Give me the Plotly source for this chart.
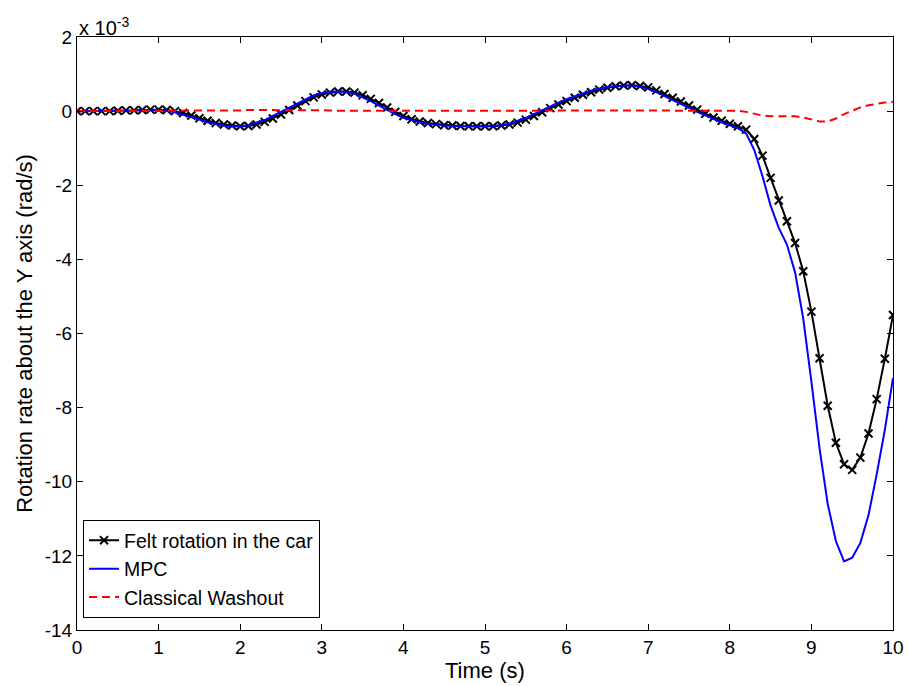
import numpy as np
import plotly.graph_objects as go

# time grid (s), 0.1 s sampling
time_s = [round(0.1 * i, 1) for i in range(101)]

# values in units of 1e-3 rad/s
felt = [
    0.0, 0.0, 0.0, 0.0, 0.0, 0.01, 0.02, 0.02, 0.03, 0.04,
    0.04, 0.03, 0.0, -0.05, -0.12, -0.19, -0.26, -0.32, -0.36, -0.39,
    -0.41, -0.40, -0.36, -0.29, -0.20, -0.09, 0.03, 0.15, 0.27, 0.37,
    0.45, 0.50, 0.53, 0.53, 0.50, 0.43, 0.33, 0.22, 0.10, -0.02,
    -0.13, -0.22, -0.28, -0.32, -0.35, -0.38, -0.39, -0.40, -0.41, -0.41,
    -0.41, -0.41, -0.39, -0.36, -0.31, -0.23, -0.13, -0.03, 0.08, 0.18,
    0.27, 0.36, 0.44, 0.51, 0.58, 0.63, 0.67, 0.69, 0.70, 0.68,
    0.64, 0.56, 0.46, 0.36, 0.26, 0.15, 0.04, -0.07, -0.17, -0.26,
    -0.34, -0.41, -0.50, -0.75, -1.20, -1.80, -2.41, -2.97, -3.56, -4.32,
    -5.41, -6.67, -7.95, -8.95, -9.53, -9.68, -9.35, -8.70, -7.77, -6.68,
    -5.50,
]

mpc = [
    0.0, 0.0, 0.0, 0.0, 0.01, 0.01, 0.02, 0.02, 0.03, 0.03,
    0.03, 0.01, -0.03, -0.09, -0.16, -0.23, -0.30, -0.35, -0.39, -0.41,
    -0.41, -0.38, -0.32, -0.24, -0.13, -0.02, 0.10, 0.22, 0.33, 0.42,
    0.48, 0.52, 0.53, 0.52, 0.47, 0.38, 0.27, 0.15, 0.03, -0.08,
    -0.18, -0.25, -0.30, -0.34, -0.37, -0.39, -0.40, -0.41, -0.41, -0.41,
    -0.41, -0.40, -0.38, -0.34, -0.27, -0.18, -0.08, 0.03, 0.13, 0.23,
    0.32, 0.40, 0.48, 0.55, 0.61, 0.65, 0.68, 0.69, 0.69, 0.66,
    0.60, 0.51, 0.41, 0.31, 0.20, 0.09, -0.02, -0.12, -0.22, -0.30,
    -0.38, -0.46, -0.60, -1.05, -1.75, -2.55, -3.15, -3.60, -4.35, -5.60,
    -7.30, -9.10, -10.60, -11.60, -12.15, -12.05, -11.65, -10.90, -9.80, -8.60,
    -7.20,
]

washout = [
    0.0, 0.0, 0.0, 0.0, 0.0, 0.0, 0.0, 0.0, 0.0, 0.0,
    0.0, 0.0, 0.0, 0.0, 0.0, 0.01, 0.01, 0.01, 0.02, 0.02,
    0.02, 0.03, 0.03, 0.04, 0.04, 0.04, 0.04, 0.04, 0.03, 0.03,
    0.02, 0.02, 0.01, 0.01, 0.0, 0.0, -0.01, -0.01, -0.01, -0.01,
    -0.01, -0.01, 0.0, 0.0, 0.0, 0.0, 0.0, 0.0, 0.0, 0.0,
    0.0, 0.0, 0.0, 0.01, 0.01, 0.01, 0.01, 0.02, 0.02, 0.02,
    0.02, 0.02, 0.02, 0.02, 0.02, 0.02, 0.02, 0.02, 0.02, 0.02,
    0.02, 0.02, 0.02, 0.02, 0.02, 0.02, 0.02, 0.02, 0.02, 0.02,
    0.02, 0.01, -0.02, -0.08, -0.12, -0.14, -0.14, -0.14, -0.14, -0.17,
    -0.23, -0.28, -0.28, -0.20, -0.08, 0.02, 0.10, 0.16, 0.20, 0.23,
    0.25,
]

x_ticks = list(range(0, 11))
y_ticks = list(range(-14, 3, 2))

font_family = "Liberation Sans, Arial, sans-serif"
tick_size = 19
title_size = 22
legend_size = 19.5

fig = go.Figure()
fig.add_trace(go.Scatter(
    x=time_s, y=felt, mode="lines+markers", name="Felt rotation in the car",
    line=dict(color="black", width=2),
    marker=dict(symbol="x-thin", size=8, line=dict(color="black", width=2), color="black"),
))
fig.add_trace(go.Scatter(
    x=time_s, y=mpc, mode="lines", name="MPC",
    line=dict(color="#0000ff", width=2),
))
fig.add_trace(go.Scatter(
    x=time_s, y=washout, mode="lines", name="Classical Washout",
    line=dict(color="#ff0000", width=2, dash="8px,5px"),
))

axis_common = dict(
    showgrid=False, zeroline=False, showline=True, linecolor="black", linewidth=1,
    mirror="ticks", ticks="inside", ticklen=6, tickcolor="black", tickwidth=1,
    tickfont=dict(family=font_family, size=tick_size, color="black"),
    automargin=False,
)

fig.update_layout(
    width=908, height=686,
    margin=dict(l=77, r=15, t=37, b=56),
    paper_bgcolor="white", plot_bgcolor="white",
    font=dict(family=font_family, size=tick_size, color="black"),
    showlegend=True,
    legend=dict(
        x=0.0074, y=0.02, xanchor="left", yanchor="bottom",
        bgcolor="white", bordercolor="black", borderwidth=1,
        font=dict(family=font_family, size=legend_size, color="black"),
        tracegroupgap=0, itemwidth=30,
    ),
    xaxis=dict(
        range=[0, 10], tickvals=x_ticks, ticktext=[str(v) for v in x_ticks],
        **axis_common,
    ),
    yaxis=dict(
        range=[-14, 2], tickvals=y_ticks, ticktext=[str(v) for v in y_ticks],
        title=dict(text="Rotation rate about the Y axis (rad/s)", font=dict(family=font_family, size=title_size), standoff=6),
        **axis_common,
    ),
    annotations=[
        dict(
            text="x 10<sup>-3</sup>", xref="paper", yref="paper", x=0.0, y=1.0,
            xanchor="left", yanchor="bottom", showarrow=False,
            font=dict(family=font_family, size=20, color="black"), yshift=-4,
        ),
        dict(
            text="Time (s)", xref="paper", yref="paper", x=0.5, y=0.0,
            xanchor="center", yanchor="top", showarrow=False,
            font=dict(family=font_family, size=title_size, color="black"), yshift=-26,
        ),
    ],
)

fig.write_html("out.html")
